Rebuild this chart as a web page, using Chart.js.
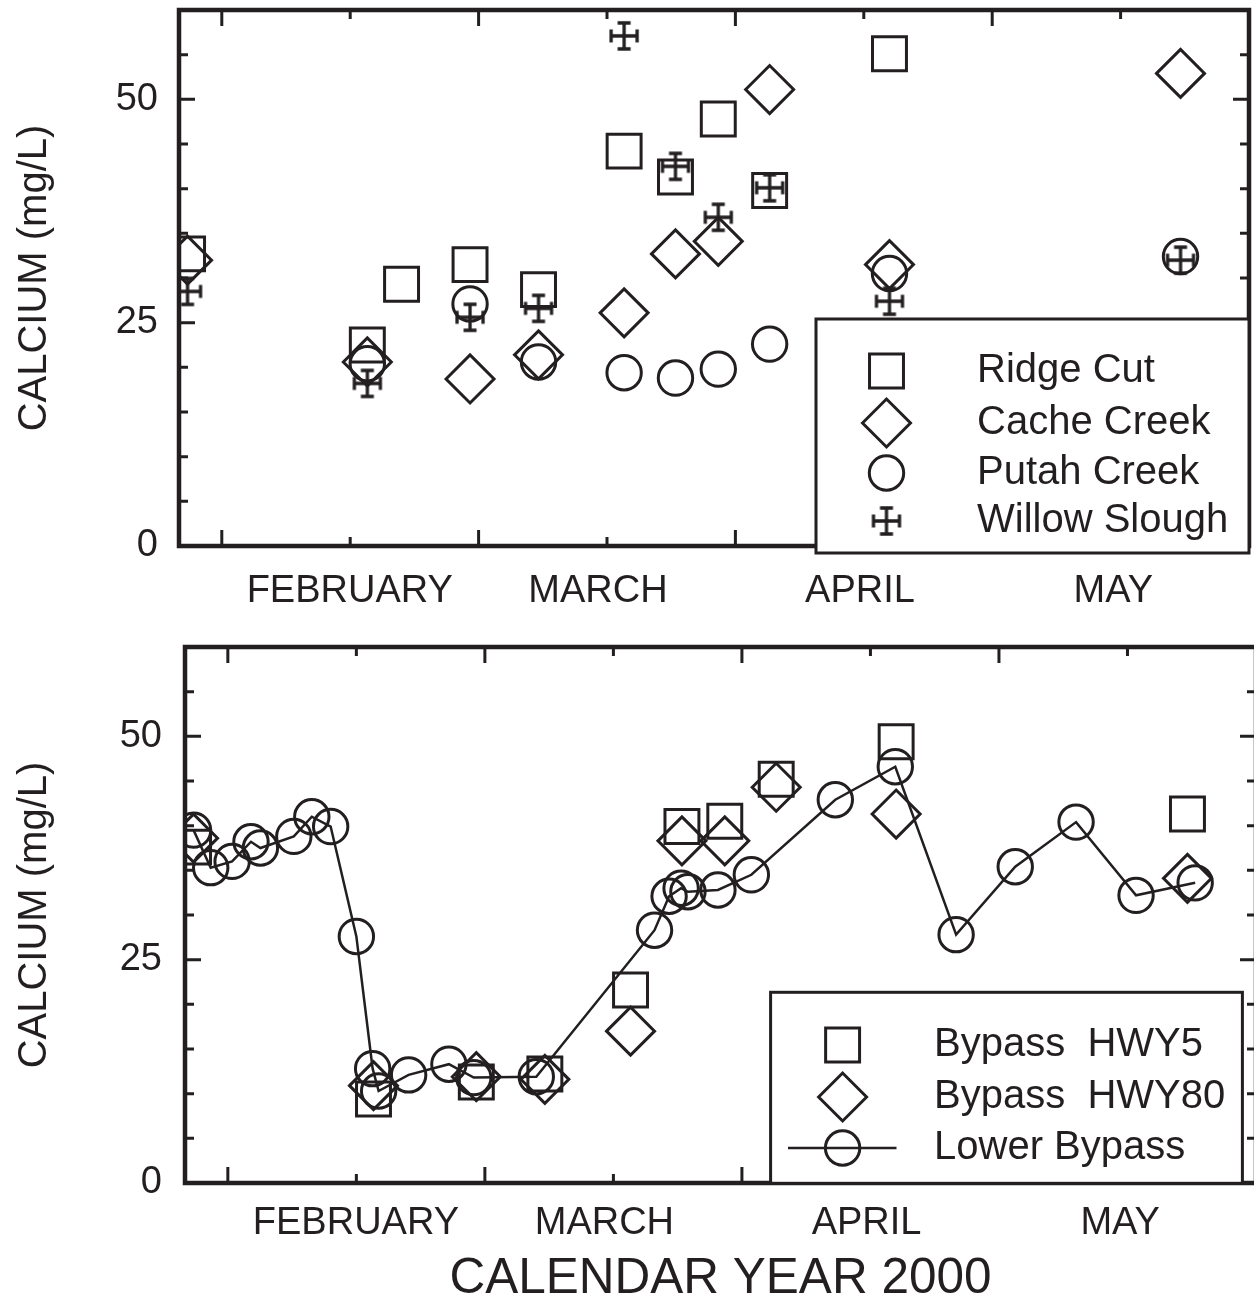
<!DOCTYPE html>
<html><head><meta charset="utf-8">
<style>
html,body{margin:0;padding:0;background:#fff;overflow:hidden;width:1254px;height:1304px;}
#topChart{position:absolute;left:0;top:0;}
#botChart{position:absolute;left:0;top:620px;}
</style>
<script src="https://cdn.jsdelivr.net/npm/chart.js@4.4.1/dist/chart.umd.min.js"></script>
</head><body>
<canvas id="topChart" width="1254" height="620"></canvas>
<canvas id="botChart" width="1262" height="684"></canvas>
<script>
// ---------- DATA (x = day of year 2000, y = calcium mg/L) ----------
const ridgeCutDays   = [26, 47, 51, 59, 67, 77, 83, 88, 94, 108];
const ridgeCutCa     = [32.7, 22.5, 29.3, 31.5, 28.7, 44.2, 41.3, 47.8, 39.8, 55.1];
const cacheCreekDays = [26, 47, 59, 67, 77, 83, 88, 94, 108, 142];
const cacheCreekCa   = [32.0, 20.6, 18.7, 21.4, 26.1, 32.7, 34.1, 51.1, 31.5, 52.9];
const putahCreekDays = [47, 59, 67, 77, 83, 88, 94, 108, 142];
const putahCreekCa   = [20.4, 27.1, 20.6, 19.4, 18.8, 19.8, 22.6, 30.5, 32.4];
const willowDays     = [26, 47, 59, 67, 77, 83, 88, 94, 108, 142];
const willowCa       = [28.5, 18.2, 25.6, 26.6, 57.1, 42.5, 36.8, 40.1, 27.4, 32.0];

const hwy5Days  = [26, 47, 59, 67, 77, 83, 88, 94, 108, 142];
const hwy5Ca    = [37.6, 9.4, 11.3, 12.2, 21.6, 39.9, 40.5, 45.2, 49.4, 41.3];
const hwy80Days = [26, 47, 59, 67, 77, 83, 88, 94, 108, 142];
const hwy80Ca   = [38.6, 10.9, 11.9, 11.6, 17.0, 38.3, 38.3, 44.3, 41.3, 34.1];
const lowerBypassDays = [26, 28, 30.5, 32.7, 33.8, 37.7, 39.8, 42, 45, 46.9, 47.6, 51.1, 55.8, 58.7, 66,
                         79.8, 81.5, 82.9, 83.7, 87.2, 91.1, 100.9, 107.9, 115, 121.9, 129, 136, 142.9];
const lowerBypassCa   = [39.5, 35.3, 36.0, 38.2, 37.5, 38.8, 41.0, 39.9, 27.6, 12.8, 10.3, 12.1, 13.3, 11.8, 11.9,
                         28.3, 32.1, 33.0, 32.6, 32.8, 34.5, 42.9, 46.6, 27.8, 35.4, 40.4, 32.2, 33.6];

// ---------- AXES ----------
const monthNames   = ['FEBRUARY', 'MARCH', 'APRIL', 'MAY'];
const monthLabelDays = [44.95, 73.95, 104.55, 134.15];
const xTickDays    = [30, 45, 60, 75, 90, 105, 120, 135];
const xMajorDays   = [30, 60, 90, 120];
const yLabelValues = [0, 25, 50];
const yTickValues  = [5, 10, 15, 20, 25, 30, 35, 40, 45, 50, 55];
const yMajorValues = [25, 50];
const xRange = [25, 150];
const yRange = [0, 60];

const INK = '#231f20';
const FONT = "'Liberation Sans', Arial, sans-serif";
Chart.defaults.font.family = FONT;
Chart.defaults.color = INK;

function makeWillowGlyph() {
  const s = 32, c = document.createElement('canvas');
  c.width = s; c.height = s;
  const g = c.getContext('2d');
  g.strokeStyle = INK; g.lineWidth = 3.3;
  const m = s / 2, h = 13, cap = 6.5;
  g.beginPath();
  g.moveTo(m, m - h); g.lineTo(m, m + h);
  g.moveTo(m - h, m); g.lineTo(m + h, m);
  g.moveTo(m - cap, m - h); g.lineTo(m + cap, m - h);
  g.moveTo(m - cap, m + h); g.lineTo(m + cap, m + h);
  g.moveTo(m - h, m - cap); g.lineTo(m - h, m + cap);
  g.moveTo(m + h, m - cap); g.lineTo(m + h, m + cap);
  g.stroke();
  return c;
}
const willowGlyph = makeWillowGlyph();

const SQ_R = 24, DI_R = 24, CI_R = 17.2;

function pts(days, vals) { return days.map((d, i) => ({x: d, y: vals[i]})); }
function markerSet(label, days, vals, style, r) {
  return {label, data: pts(days, vals), pointStyle: style, pointRadius: r, pointHoverRadius: r,
    pointBorderColor: INK, pointBackgroundColor: 'rgba(0,0,0,0)', pointBorderWidth: 3,
    showLine: false, clip: 0};
}

// frame + inward ticks drawn at scale positions
const framePlugin = {
  id: 'frame',
  afterDatasetsDraw(chart) {
    const {ctx, chartArea: a, scales: {x, y}} = chart;
    ctx.save();
    ctx.strokeStyle = INK;
    ctx.lineWidth = 3;
    ctx.beginPath();
    xTickDays.forEach(d => {
      const px = x.getPixelForValue(d);
      const len = xMajorDays.includes(d) ? 16 : 9;
      ctx.moveTo(px, a.bottom); ctx.lineTo(px, a.bottom - len);
      ctx.moveTo(px, a.top); ctx.lineTo(px, a.top + len);
    });
    yTickValues.forEach(v => {
      const py = y.getPixelForValue(v);
      const len = yMajorValues.includes(v) ? 16 : 9;
      ctx.moveTo(a.left, py); ctx.lineTo(a.left + len, py);
      ctx.moveTo(a.right, py); ctx.lineTo(a.right - len, py);
    });
    ctx.stroke();
    ctx.lineWidth = 4.5;
    ctx.strokeRect(a.left, a.top, a.right - a.left, a.bottom - a.top);
    ctx.restore();
  }
};

function drawSymbol(ctx, style, x, y) {
  ctx.beginPath();
  if (style === 'rect') {
    const s = Math.SQRT1_2 * SQ_R;
    ctx.rect(x - s, y - s, 2 * s, 2 * s);
  } else if (style === 'rectRot') {
    ctx.moveTo(x - DI_R, y); ctx.lineTo(x, y - DI_R); ctx.lineTo(x + DI_R, y); ctx.lineTo(x, y + DI_R); ctx.closePath();
  } else if (style === 'circle') {
    ctx.arc(x, y, CI_R, 0, Math.PI * 2);
  } else {
    ctx.drawImage(style, x - style.width / 2, y - style.height / 2);
    return;
  }
  ctx.stroke();
}

const boxLegendPlugin = {
  id: 'boxLegend',
  afterDraw(chart, args, o) {
    if (!o || !o.box) return;
    const ctx = chart.ctx;
    ctx.save();
    ctx.fillStyle = '#fff';
    ctx.fillRect(o.box.x, o.box.y, o.box.w, o.box.h);
    ctx.strokeStyle = INK; ctx.lineWidth = 3;
    ctx.strokeRect(o.box.x, o.box.y, o.box.w, o.box.h);
    chart.data.datasets.forEach((ds, i) => {
      const y = o.rowY[i];
      ctx.strokeStyle = INK; ctx.lineWidth = 3;
      if (ds.showLine) {
        ctx.lineWidth = 2.5;
        ctx.beginPath(); ctx.moveTo(o.lineX0, y); ctx.lineTo(o.lineX1, y); ctx.stroke();
        ctx.lineWidth = 3;
      }
      drawSymbol(ctx, ds.pointStyle, o.symX, y);
      ctx.fillStyle = INK;
      ctx.font = '40px ' + FONT;
      ctx.textBaseline = 'middle';
      ctx.textAlign = 'left';
      ctx.fillText(ds.label, o.textX, y);
    });
    ctx.restore();
  }
};

function makeOptions(g) {
  return {
    responsive: false, animation: false, events: [],
    layout: {autoPadding: false, padding: {left: 0, top: g.top, right: g.cw - g.right, bottom: 0}},
    plugins: {legend: {display: false}, tooltip: {enabled: false}, boxLegend: g.legend},
    scales: {
      x: {
        type: 'linear', position: 'bottom', min: xRange[0], max: xRange[1],
        grid: {display: false, drawTicks: false}, border: {display: false},
        afterBuildTicks: s => { s.ticks = monthLabelDays.map(v => ({value: v})); },
        afterFit: s => { s.height = g.ch - g.bottom; s.paddingLeft = 0; s.paddingRight = 0; },
        ticks: {autoSkip: false, maxRotation: 0, minRotation: 0, padding: g.xPad,
          font: {size: 38}, color: INK, callback: (v, i) => monthNames[i]},
        title: g.xTitle ? {display: true, text: g.xTitle, color: INK,
          font: {size: 49.5, lineHeight: 1}, padding: {top: 0, bottom: g.xTitlePad}} : {display: false}
      },
      y: {
        type: 'linear', position: 'left', min: yRange[0], max: yRange[1],
        grid: {display: false, drawTicks: false}, border: {display: false},
        afterBuildTicks: s => { s.ticks = yLabelValues.map(v => ({value: v})); },
        afterFit: s => { s.width = g.left; s.paddingTop = 0; s.paddingBottom = 0; },
        ticks: {padding: g.yPad, font: {size: 38}, color: INK},
        title: {display: true, text: 'CALCIUM (mg/L)', color: INK,
          font: {size: 40, lineHeight: 1.2}, padding: {top: 11, bottom: 0}}
      }
    }
  };
}

new Chart(document.getElementById('topChart'), {
  type: 'scatter',
  data: {datasets: [
    markerSet('Ridge Cut', ridgeCutDays, ridgeCutCa, 'rect', SQ_R),
    markerSet('Cache Creek', cacheCreekDays, cacheCreekCa, 'rectRot', DI_R),
    markerSet('Putah Creek', putahCreekDays, putahCreekCa, 'circle', CI_R),
    markerSet('Willow Slough', willowDays, willowCa, willowGlyph, 16)
  ]},
  options: makeOptions({cw: 1254, ch: 620, left: 179, top: 10, right: 1249, bottom: 546,
    xPad: 23, yPad: 21,
    legend: {box: {x: 816, y: 319, w: 433, h: 234}, symX: 886.5, textX: 977, rowY: [371, 423, 473, 521]}}),
  plugins: [framePlugin, boxLegendPlugin]
});

const lower = markerSet('Lower Bypass', lowerBypassDays, lowerBypassCa, 'circle', CI_R);
Object.assign(lower, {showLine: true, borderColor: INK, borderWidth: 2.5, tension: 0});

new Chart(document.getElementById('botChart'), {
  type: 'scatter',
  data: {datasets: [
    markerSet('Bypass  HWY5', hwy5Days, hwy5Ca, 'rect', SQ_R),
    markerSet('Bypass  HWY80', hwy80Days, hwy80Ca, 'rectRot', DI_R),
    lower
  ]},
  options: makeOptions({cw: 1262, ch: 684, left: 185, top: 27, right: 1256, bottom: 563,
    xPad: 18, yPad: 23, xTitle: 'CALENDAR YEAR 2000', xTitlePad: 0,
    legend: {box: {x: 770.6, y: 372.3, w: 471.8, h: 191}, symX: 842.6, textX: 934,
      lineX0: 788, lineX1: 896.5, rowY: [425, 477, 528]}}),
  plugins: [framePlugin, boxLegendPlugin]
});
</script>
</body></html>
